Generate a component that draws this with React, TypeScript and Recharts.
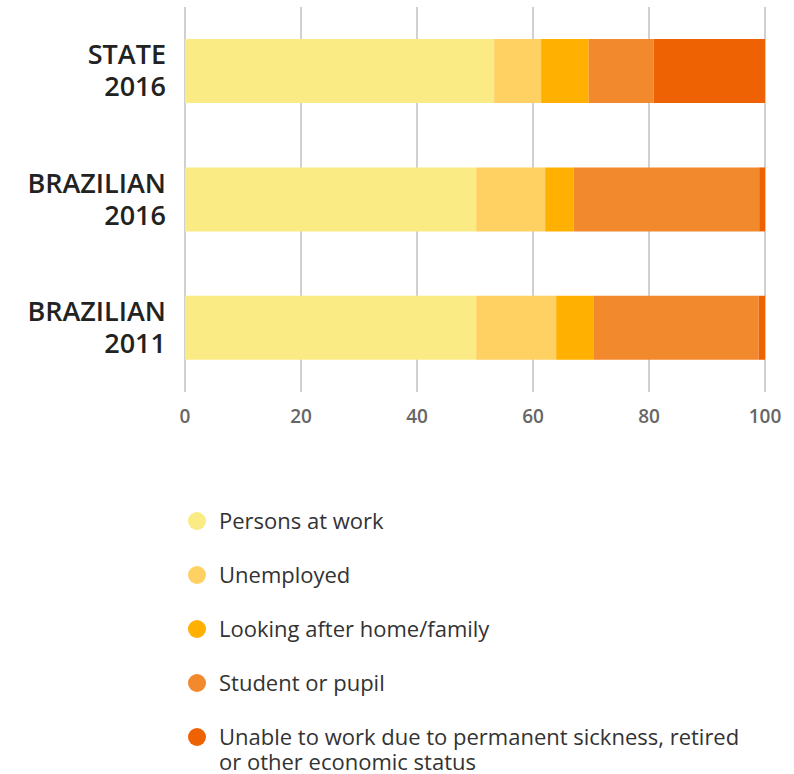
import { BarChart, Bar, XAxis, YAxis, CartesianGrid } from "recharts";

const categories = ["STATE 2016", "BRAZILIAN 2016", "BRAZILIAN 2011"];
const personsAtWork = [53.3, 50.2, 50.2];
const unemployed = [8.1, 11.9, 13.8];
const lookingAfterHome = [8.2, 4.9, 6.5];
const student = [11.2, 32.0, 28.4];
const unableToWork = [19.2, 1.0, 1.1];
const xTicks = [0, 20, 40, 60, 80, 100];

const series = [
  { key: "work", name: "Persons at work", values: personsAtWork, color: "#faeb84" },
  { key: "unemp", name: "Unemployed", values: unemployed, color: "#ffd062" },
  { key: "home", name: "Looking after home/family", values: lookingAfterHome, color: "#ffb000" },
  { key: "student", name: "Student or pupil", values: student, color: "#f3892d" },
  {
    key: "unable",
    name: "Unable to work due to permanent sickness, retired or other economic status",
    values: unableToWork,
    color: "#ef6204",
  },
];

const data = categories.map((cat, i) => {
  const row: Record<string, string | number> = { cat };
  series.forEach((s) => (row[s.key] = s.values[i]));
  return row;
});

const FONT = "'Open Sans', sans-serif";

// category label split over two lines: name / year
const CatTick = (props: any) => {
  const { x, y, payload } = props;
  const label: string = payload.value;
  const idx = label.lastIndexOf(" ");
  return (
    <g>
      <text x={x} y={y - 7} textAnchor="end" fill="#222" fontFamily={FONT} fontSize={27} fontWeight={600}>
        {label.slice(0, idx)}
      </text>
      <text x={x} y={y + 25} textAnchor="end" fill="#222" fontFamily={FONT} fontSize={27} fontWeight={600}>
        {label.slice(idx + 1)}
      </text>
    </g>
  );
};

const App = () => {
  return (
    <div style={{ position: "absolute", left: 0, top: 0, width: 794, height: 774, background: "#fff" }}>
      <BarChart
        width={794}
        height={432}
        data={data}
        layout="vertical"
        margin={{ top: 7, right: 29, left: 0, bottom: 0 }}
        barCategoryGap="25%"
      >
        <CartesianGrid horizontal={false} stroke="#d0d0d0" strokeWidth={2} />
        <XAxis
          type="number"
          domain={[0, 100]}
          ticks={xTicks}
          axisLine={false}
          tickLine={false}
          height={40}
          tickMargin={12}
          tick={{ fill: "#666", fontFamily: FONT, fontSize: 19, fontWeight: 600 }}
        />
        <YAxis
          type="category"
          dataKey="cat"
          width={185}
          axisLine={false}
          tickLine={false}
          tickSize={0}
          tickMargin={19}
          tick={<CatTick />}
        />
        {series.map((s) => (
          <Bar key={s.key} dataKey={s.key} name={s.name} stackId="a" fill={s.color} isAnimationActive={false} />
        ))}
      </BarChart>
      <div style={{ position: "absolute", left: 188, top: 508, fontFamily: FONT, fontSize: 22, color: "#333" }}>
        {series.map((s) => (
          <div key={s.key} style={{ display: "flex", alignItems: "flex-start", marginBottom: 29, width: 565 }}>
            <span
              style={{
                width: 18,
                height: 18,
                borderRadius: "50%",
                background: s.color,
                flex: "none",
                marginTop: 4,
                marginRight: 13,
              }}
            />
            <span style={{ lineHeight: "25px" }}>{s.name}</span>
          </div>
        ))}
      </div>
    </div>
  );
};

export default App;
